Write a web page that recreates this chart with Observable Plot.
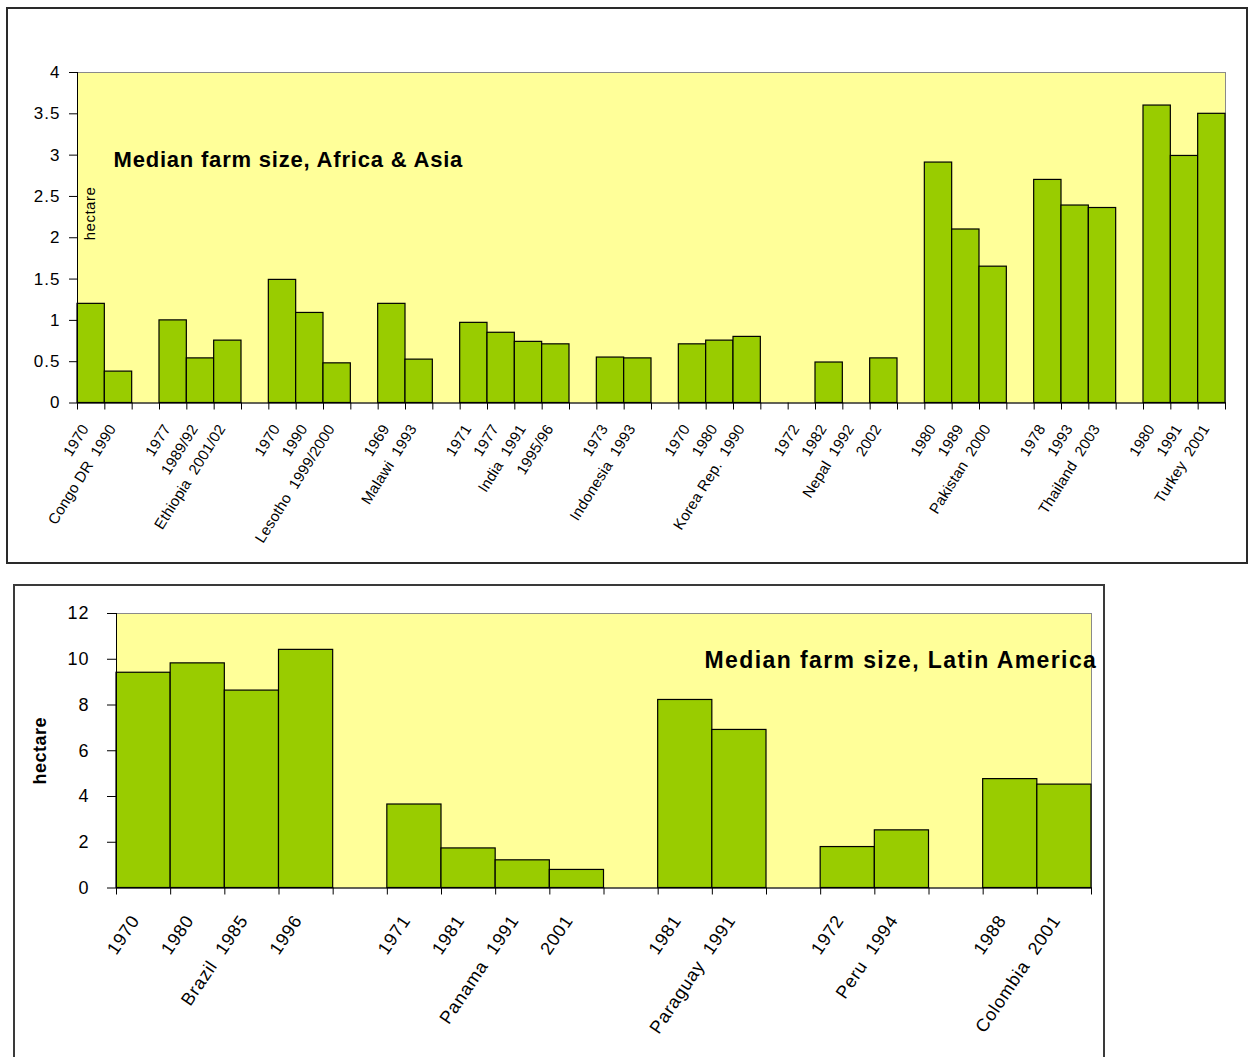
<!DOCTYPE html>
<html>
<head>
<meta charset="utf-8">
<script src="https://cdn.jsdelivr.net/npm/d3@7"></script>
<script src="https://cdn.jsdelivr.net/npm/@observablehq/plot@0.6"></script>
<style>
  html, body { margin: 0; padding: 0; background: #fff; }
  #page { position: relative; width: 1248px; height: 1057px; overflow: hidden; background: #fff; }
  .box { position: absolute; box-sizing: border-box; }
  #boxTop { left: 6px; top: 7px; width: 1242px; height: 557px; border: 2px solid #2a2a2a; }
  #boxBot { left: 13px; top: 584px; width: 1092px; height: 500px; border: 2px solid #3a3a3a; }
  .chart { position: absolute; left: 0; }
  #chartTop { top: 0; }
  #chartBot { top: 575px; }
  .chart svg text { white-space: pre; }
  #chartTop .xlab text { letter-spacing: 0.2px; }
  #chartBot .xlab text { letter-spacing: 0.8px; }
  .ylab text { letter-spacing: 1px; }
  #chartTop .ttl text { letter-spacing: 0.8px; }
  #chartBot .ttl text { letter-spacing: 1.4px; }
  .unit text { letter-spacing: 0.5px; }
</style>
</head>
<body>
<div id="page">
  <div class="box" id="boxTop"></div>
  <div class="box" id="boxBot"></div>
  <div class="chart" id="chartTop"></div>
  <div class="chart" id="chartBot"></div>
</div>
<script>
// ---------- Data: Africa & Asia ----------
const topCountries = ["Congo DR","Ethiopia","Lesotho","Malawi","India","Indonesia","Korea Rep.","Nepal","Pakistan","Thailand","Turkey"];
const topYears = [
  ["1970","1990"],
  ["1977","1989/92","2001/02"],
  ["1970","1990","1999/2000"],
  ["1969","1993"],
  ["1971","1977","1991","1995/96"],
  ["1973","1993"],
  ["1970","1980","1990"],
  ["1972","1982","1992","2002"],
  ["1980","1989","2000"],
  ["1978","1993","2003"],
  ["1980","1991","2001"]
];
const topValues = [
  [1.2, 0.38],
  [1.0, 0.54, 0.755],
  [1.49, 1.09, 0.48],
  [1.2, 0.525],
  [0.97, 0.85, 0.74, 0.71],
  [0.55, 0.54],
  [0.71, 0.755, 0.80],
  [null, 0.49, null, 0.54],
  [2.91, 2.10, 1.65],
  [2.70, 2.39, 2.36],
  [3.60, 2.99, 3.50]
];
const topNameAt = [1, 2, 2, 1, 2, 1, 2, 2, 2, 2, 2];
const topYTicks = [0, 0.5, 1, 1.5, 2, 2.5, 3, 3.5, 4];
const topTitle = "Median farm size, Africa & Asia";

// ---------- Data: Latin America ----------
const latCountries = ["Brazil","Panama","Paraguay","Peru","Colombia"];
const latYears = [
  ["1970","1980","1985","1996"],
  ["1971","1981","1991","2001"],
  ["1981","1991"],
  ["1972","1994"],
  ["1988","2001"]
];
const latValues = [
  [9.41, 9.82, 8.63, 10.41],
  [3.65, 1.73, 1.21, 0.79],
  [8.22, 6.91],
  [1.79, 2.52],
  [4.76, 4.52]
];
const latNameAt = [2, 2, 1, 1, 1];
const latYTicks = [0, 2, 4, 6, 8, 10, 12];
const latTitle = "Median farm size, Latin America";
const unitLabel = "hectare";

function buildRows(countries, years, values, nameAt, sep) {
  const keys = [], labels = new Map(), rows = [];
  countries.forEach((c, g) => {
    years[g].forEach((yr, j) => {
      const key = g + "-" + j;
      keys.push(key);
      labels.set(key, j === nameAt[g] ? c + sep + yr : yr);
      if (values[g][j] != null) rows.push({key, country: c, year: yr, value: values[g][j]});
    });
    if (g < countries.length - 1) { const k = "gap-" + g; keys.push(k); labels.set(k, ""); }
  });
  return {keys, labels, rows};
}

function makeChart(o) {
  const {keys, labels, rows} = buildRows(o.countries, o.years, o.values, o.nameAt, o.sep);
  const step = (o.width - o.ml - o.mr) / keys.length;
  return Plot.plot({
    width: o.width, height: o.height,
    marginLeft: o.ml, marginRight: o.mr, marginTop: o.mt, marginBottom: o.mb,
    style: {fontFamily: "'Liberation Sans', Arial, sans-serif", color: "#000", background: "transparent", overflow: "visible"},
    x: {type: "band", domain: keys, padding: 0, round: false, axis: null},
    y: {domain: [0, o.ymax], axis: null},
    marks: [
      Plot.frame({fill: "#FFFF99", stroke: "#8a8a8a"}),
      Plot.barY(rows, {x: "key", y: "value", fill: "#99CC00", stroke: "#000", strokeWidth: 1.2}),
      Plot.frame({anchor: "left", stroke: "#000"}),
      Plot.frame({anchor: "bottom", stroke: "#000"}),
      Plot.axisY({ticks: o.yTicks, tickSize: o.yTickSize, tickPadding: o.yTickPad, fontSize: o.yFont,
                  tickFormat: d => String(d), label: null, className: "ylab"}),
      Plot.axisX({ticks: keys, tickSize: 7, text: null, label: null, dx: -step / 2}),
      Plot.axisX({ticks: [keys[keys.length - 1]], tickSize: 7, text: null, label: null, dx: step / 2}),
      Plot.axisX({ticks: keys, tickSize: 0, tickPadding: o.xPad, tickRotate: o.rot, fontSize: o.xFont, dx: o.xdx,
                  tickFormat: k => labels.get(k), label: null, className: "xlab"}),
      Plot.text([o.title], {frameAnchor: "top-left", textAnchor: "start", lineAnchor: "middle",
                  dx: o.titleDx, dy: o.titleDy, fontSize: o.titleFont, fontWeight: "bold", className: "ttl"}),
      Plot.text([unitLabel], {frameAnchor: o.unitAnchor, textAnchor: "middle", lineAnchor: "middle", rotate: -90,
                  dx: o.unitDx, dy: o.unitDy, fontSize: o.unitFont, fontWeight: o.unitWeight, className: "unit"})
    ]
  });
}

document.getElementById("chartTop").append(makeChart({
  countries: topCountries, years: topYears, values: topValues, nameAt: topNameAt, sep: "\u00A0\u00A0",
  width: 1248, height: 560, ml: 77, mr: 23, mt: 72, mb: 157.5, ymax: 4, yTicks: topYTicks,
  yTickSize: 8, yTickPad: 9, yFont: 17, xPad: 23, rot: -58, xFont: 15, xdx: -6,
  title: topTitle, titleDx: 36, titleDy: 87, titleFont: 22,
  unitAnchor: "top-left", unitDx: 13, unitDy: 141, unitFont: 15, unitWeight: "normal"
}));

document.getElementById("chartBot").append(makeChart({
  countries: latCountries, years: latYears, values: latValues, nameAt: latNameAt, sep: "\u00A0\u00A0",
  width: 1248, height: 482, ml: 116, mr: 157, mt: 38, mb: 169.5, ymax: 12, yTicks: latYTicks,
  yTickSize: 9, yTickPad: 18, yFont: 18, xPad: 29, rot: -56, xFont: 18, xdx: -8,
  title: latTitle, titleDx: 588, titleDy: 47, titleFont: 23,
  unitAnchor: "left", unitDx: -76, unitDy: 0, unitFont: 18, unitWeight: "bold"
}));
</script>
</body>
</html>
